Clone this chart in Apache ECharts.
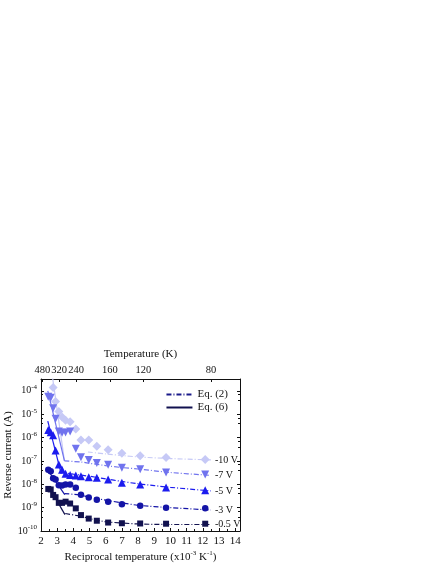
<!DOCTYPE html>
<html>
<head>
<meta charset="utf-8">
<script src="https://cdn.jsdelivr.net/npm/echarts@6/dist/echarts.min.js"></script>
<style>html,body{margin:0;padding:0;background:#fff}#c{width:436px;height:564px}</style>
</head>
<body>
<div id="c"></div>
<script>
// Reciprocal temperature positions of measured points (x10^-3 K^-1)
const xPts = [2.45, 2.6, 2.75, 2.9, 3.1, 3.3, 3.52, 3.8, 4.15, 4.47, 4.95, 5.45, 6.15, 7.0, 8.13, 9.73, 12.15];
const xPts10 = [2.75, 2.9, 3.1, 3.3, 3.52, 3.8, 4.15, 4.47, 4.95, 5.45, 6.15, 7.0, 8.13, 9.73, 12.15];

// Measured reverse currents (A)
const i10 = [1.4e-4, 3.5e-5, 1.3e-5, 7.6e-6, 5.5e-6, 4.7e-6, 2.3e-6, 7.8e-7, 7.8e-7, 4.2e-7, 3.0e-7, 2.1e-7, 1.65e-7, 1.4e-7, 1.15e-7];
const i7  = [5.5e-5, 5.0e-5, 1.8e-5, 6.3e-6, 1.8e-6, 1.6e-6, 1.65e-6, 1.8e-6, 3.3e-7, 1.45e-7, 1.1e-7, 8.1e-8, 6.9e-8, 5.1e-8, 4.4e-8, 3.2e-8, 2.6e-8];
const i5  = [2.1e-6, 1.7e-6, 1.25e-6, 2.8e-7, 7.1e-8, 4.2e-8, 2.8e-8, 2.5e-8, 2.4e-8, 2.2e-8, 2.0e-8, 1.9e-8, 1.6e-8, 1.15e-8, 9.8e-9, 7.2e-9, 5.5e-9];
const i3  = [4.2e-8, 3.6e-8, 1.8e-8, 1.6e-8, 9.1e-9, 8.9e-9, 9.8e-9, 9.8e-9, 7.1e-9, 3.6e-9, 2.7e-9, 2.2e-9, 1.8e-9, 1.4e-9, 1.2e-9, 1.0e-9, 9.3e-10];
const i05 = [6.3e-9, 6.0e-9, 3.5e-9, 2.8e-9, 1.6e-9, 1.6e-9, 1.8e-9, 1.5e-9, 9.3e-10, 4.8e-10, 3.4e-10, 2.75e-10, 2.3e-10, 2.15e-10, 2.1e-10, 2.05e-10, 2.05e-10];

// Eq. (2) fit curves: x and current
const eq2x10 = [4.9, 6, 7, 8, 10, 12.5];
const eq2y10 = [2.4e-7, 2.0e-7, 1.7e-7, 1.48e-7, 1.26e-7, 1.1e-7];
const eq2x7 = [3.45, 4.5, 5, 6, 7, 8, 10, 12.5];
const eq2y7 = [1.0e-7, 8.9e-8, 7.9e-8, 6.3e-8, 5.2e-8, 4.5e-8, 3.2e-8, 2.4e-8];
const eq2x5 = [3.25, 4, 5, 6, 7, 8, 10, 12.5];
const eq2y5 = [3.2e-8, 2.7e-8, 2.2e-8, 1.7e-8, 1.32e-8, 1.05e-8, 7.4e-9, 5.2e-9];
const eq2x3 = [3.45, 4.5, 5, 6, 7, 8, 10, 12.5];
const eq2y3 = [4.0e-9, 3.4e-9, 2.8e-9, 2.1e-9, 1.6e-9, 1.26e-9, 1.0e-9, 7.9e-10];
const eq2x05 = [3.5, 4.5, 5, 6, 7, 8, 10, 12.5];
const eq2y05 = [5.6e-10, 4.2e-10, 3.4e-10, 2.5e-10, 2.2e-10, 2.0e-10, 1.9e-10, 1.9e-10];

// Eq. (6) fit lines: x and current
const eq6x10 = [2.72, 3.45];
const eq6y10 = [3.5e-4, 1.0e-7];
const eq6x7 = [2.42, 3.45];
const eq6y7 = [1.0e-4, 1.0e-7];
const eq6x5 = [2.42, 3.25];
const eq6y5 = [5.0e-6, 2.8e-8];
const eq6x3 = [2.55, 3.47];
const eq6y3 = [3.0e-8, 3.6e-9];
const eq6x05 = [2.9, 3.48];
const eq6y05 = [2.5e-9, 5.0e-10];

const seriesNames = ['-10 V', '-7 V', '-5 V', '-3 V', '-0.5 V'];
const colors = ['#c6c9f6', '#7073ee', '#1c1cef', '#1414a6', '#12124f'];
const symbols = ['diamond', 'triangle', 'triangle', 'circle', 'rect'];

// Temperature tick labels (K) on the top axis
const tempTicks = [480, 320, 240, 160, 120, 80];

const pair = (xs, ys) => xs.map((x, i) => [x, ys[i]]);
const measured = [pair(xPts10, i10), pair(xPts, i7), pair(xPts, i5), pair(xPts, i3), pair(xPts, i05)];
const eq2 = [pair(eq2x10, eq2y10), pair(eq2x7, eq2y7), pair(eq2x5, eq2y5), pair(eq2x3, eq2y3), pair(eq2x05, eq2y05)];
const eq6 = [pair(eq6x10, eq6y10), pair(eq6x7, eq6y7), pair(eq6x5, eq6y5), pair(eq6x3, eq6y3), pair(eq6x05, eq6y05)];

const FONT = 'Liberation Serif';
const dashDot = [5, 2, 1, 2];
const sizes = [9, 8, 8, 6.5, 6];

const series = [];
for (let k = 0; k < 5; k++) {
  series.push({
    type: 'line', data: eq2[k], showSymbol: false, smooth: 0.3, silent: true, z: 2,
    lineStyle: { color: colors[k], width: 1.2, type: dashDot },
    endLabel: { show: true, formatter: seriesNames[k], color: '#111', fontFamily: FONT, fontSize: 10, distance: 4 }
  });
  series.push({
    type: 'line', data: eq6[k], showSymbol: false, silent: true, z: 2,
    lineStyle: { color: colors[k], width: 1.2, type: 'solid' }
  });
  series.push({
    type: 'scatter', data: measured[k], symbol: symbols[k], symbolSize: sizes[k],
    symbolRotate: k === 1 ? 180 : 0, itemStyle: { color: colors[k], opacity: 1 }, z: 3
  });
}
series.push({ name: 'Eq. (2)', type: 'line', data: [], symbol: 'none', showSymbol: false, lineStyle: { color: '#1a1a8a', width: 1.2, type: dashDot }, itemStyle: { color: '#1a1a8a' } });
series.push({ name: 'Eq. (6)', type: 'line', data: [], symbol: 'none', showSymbol: false, lineStyle: { color: '#10104f', width: 1.2, type: 'solid' }, itemStyle: { color: '#10104f' } });

const supRich = {
  b: { fontFamily: FONT, fontSize: 10, color: '#111' },
  s: { fontFamily: FONT, fontSize: 7, color: '#111', padding: [0, 0, 7, 0] }
};
const axLine = { show: true, lineStyle: { color: '#111', width: 1 } };

const chart = echarts.init(document.getElementById('c'), null, { renderer: 'canvas' });
chart.setOption({
  backgroundColor: '#fff',
  animation: false,
  grid: { left: 41, right: 196, top: 379, bottom: 33, outerBoundsMode: 'none' },
  legend: {
    data: ['Eq. (2)', 'Eq. (6)'],
    orient: 'vertical', right: 203, top: 384,
    itemWidth: 26, itemHeight: 10, itemGap: 2,
    itemStyle: { opacity: 0, borderWidth: 0 },
    textStyle: { fontFamily: FONT, fontSize: 11, color: '#111' }
  },
  xAxis: [{
    type: 'value', position: 'bottom', min: 2, max: 14.3, interval: 1,
    name: 'Reciprocal temperature (x10{s|-3} K{s|-1})', nameLocation: 'middle', nameGap: 19,
    nameTextStyle: { fontFamily: FONT, fontSize: 11, color: '#111', rich: { s: { fontFamily: FONT, fontSize: 7, color: '#111', padding: [0, 0, 7, 0] } } },
    axisLine: axLine,
    axisTick: { show: true, inside: true, length: 3, lineStyle: { color: '#111' } },
    minorTick: { show: true, splitNumber: 2, length: 2, lineStyle: { color: '#111' } },
    axisLabel: { fontFamily: FONT, fontSize: 11, color: '#111', margin: 5,
      formatter: v => Math.abs(v - Math.round(v)) < 1e-6 ? String(Math.round(v)) : '' },
    splitLine: { show: false }
  }, {
    type: 'value', position: 'top', min: 2, max: 14.3,
    name: 'Temperature (K)', nameLocation: 'middle', nameGap: 19,
    nameTextStyle: { fontFamily: FONT, fontSize: 11, color: '#111' },
    axisLine: axLine,
    axisTick: { show: true, inside: true, length: 3, lineStyle: { color: '#111' }, customValues: tempTicks.map(t => 1000 / t) },
    axisLabel: { fontFamily: FONT, fontSize: 10.5, color: '#111', margin: 3,
      customValues: tempTicks.map(t => 1000 / t), formatter: v => String(Math.round(1000 / v)) },
    splitLine: { show: false }
  }],
  yAxis: [{
    type: 'log', logBase: 10, min: 1e-10, max: 3.2e-4, interval: 1, position: 'left',
    name: 'Reverse current (A)', nameLocation: 'middle', nameGap: 25,
    nameTextStyle: { fontFamily: FONT, fontSize: 11, color: '#111' },
    axisLine: axLine,
    axisTick: { show: true, inside: true, length: 3, lineStyle: { color: '#111' } },
    minorTick: { show: true, splitNumber: 3, length: 2, lineStyle: { color: '#111' } },
    axisLabel: { margin: 4, rich: supRich,
      formatter: v => { const e = Math.log10(v); if (Math.abs(e - Math.round(e)) > 0.01) return ''; return '{b|10}{s|' + Math.round(e) + '}'; } },
    splitLine: { show: false }
  }, {
    type: 'log', logBase: 10, min: 1e-10, max: 3.2e-4, interval: 1, position: 'right',
    axisLine: axLine,
    axisTick: { show: true, inside: true, length: 3, lineStyle: { color: '#111' } },
    minorTick: { show: true, splitNumber: 3, length: 2, lineStyle: { color: '#111' } },
    axisLabel: { show: false },
    splitLine: { show: false }
  }],
  series: series
});
</script>
</body>
</html>
